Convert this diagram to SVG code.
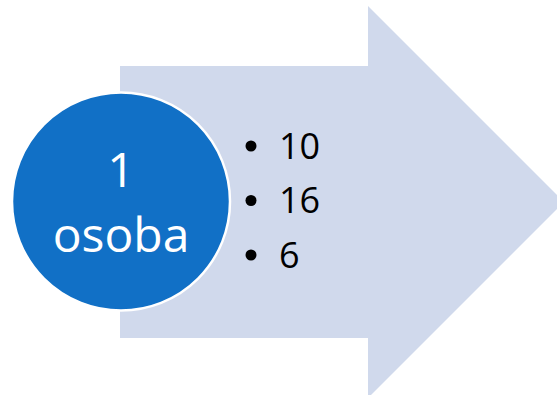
<svg xmlns="http://www.w3.org/2000/svg" width="557" height="395" viewBox="0 0 557 395">
<style>
.bul{font-family:"Open Sans","Liberation Sans",Arial,sans-serif;font-size:36px;fill:#000}
.lbl{font-family:"Open Sans","Liberation Sans",Arial,sans-serif;font-size:48px;fill:#fff;text-anchor:middle}
</style>
<rect width="557" height="395" fill="#fff"/>
<g id="arrow">
<path d="M120 66 H368 V6 L564 202 L368 398 V338 H120 Z" fill="#D0D9EC"/>
<circle cx="251" cy="146" r="5.5" fill="#000"/>
<circle cx="251" cy="200.5" r="5.5" fill="#000"/>
<circle cx="251" cy="255" r="5.5" fill="#000"/>
<text class="bul" x="279" y="159">10</text>
<text class="bul" x="279" y="213">16</text>
<text class="bul" x="279" y="268">6</text>
</g>
<g id="circle">
<circle cx="121" cy="201.5" r="109" fill="#1170C6" stroke="#fff" stroke-width="2.5"/>
<text class="lbl" x="121" y="187">1</text>
<text class="lbl" x="121" y="252">osoba</text>
</g>
</svg>
